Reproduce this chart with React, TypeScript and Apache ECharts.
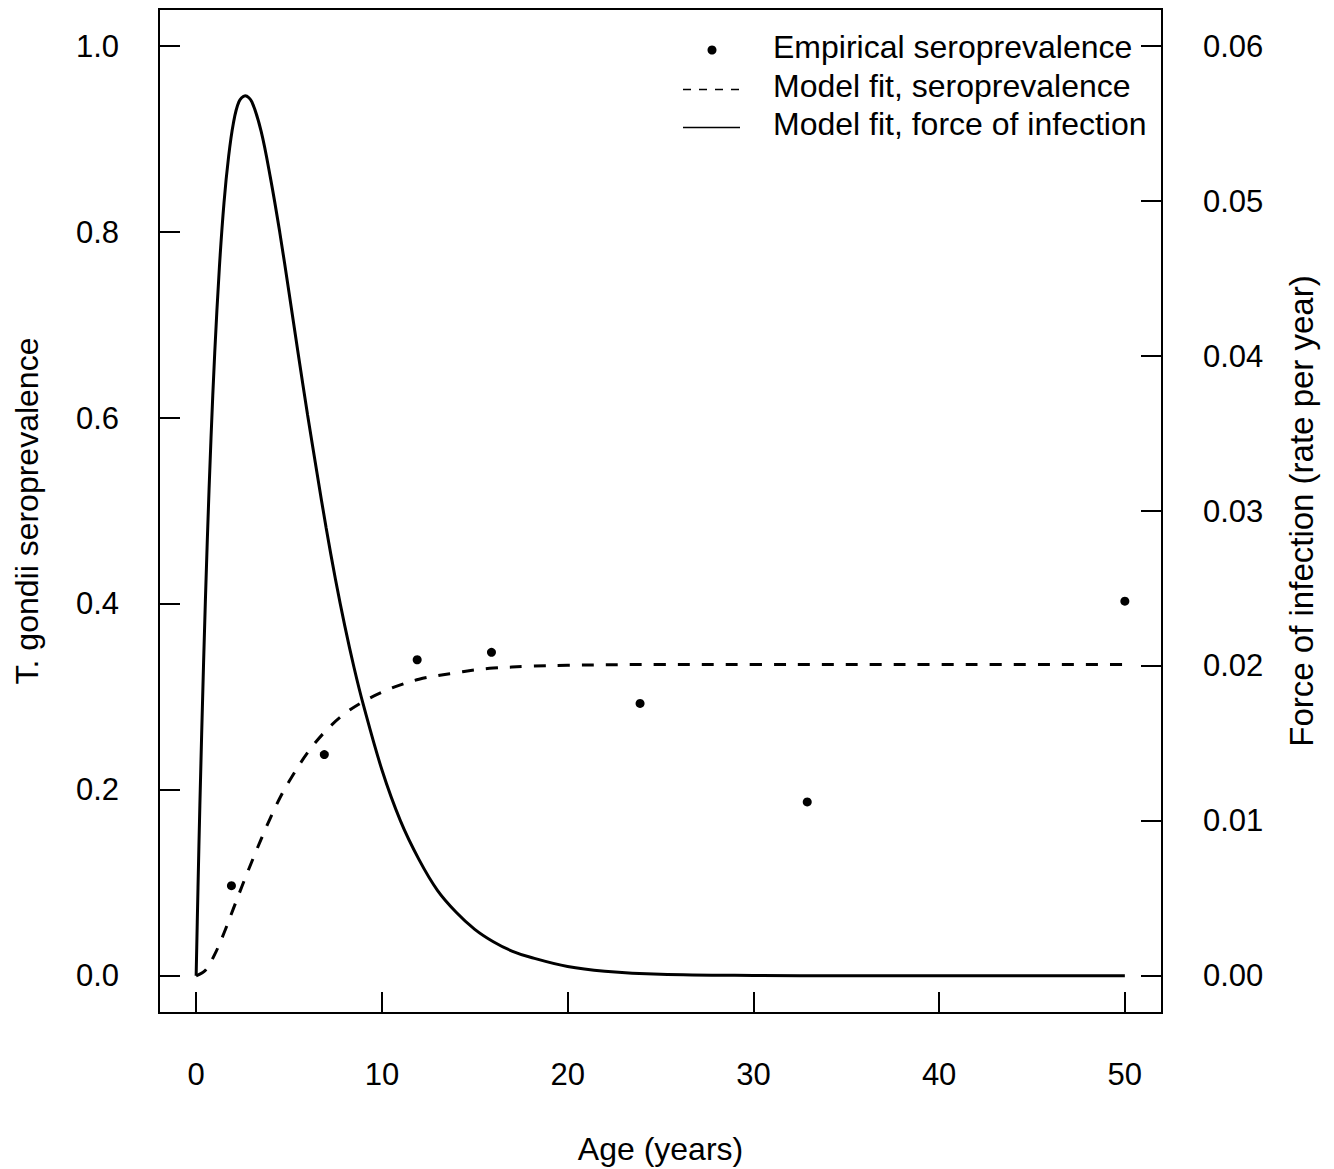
import React, { useEffect, useRef } from "react";
import * as echarts from "echarts";

// Empirical seroprevalence (age group midpoints)
const ages = [1.9, 6.9, 11.9, 15.9, 23.9, 32.9, 50];
const empiricalSeroprev = [0.097, 0.238, 0.34, 0.348, 0.293, 0.187, 0.403];

// Model fit, seroprevalence
const fitAges = [0, 0.5, 1, 1.5, 2, 2.5, 3, 3.5, 4, 4.5, 5, 6, 7, 8, 9, 10, 11, 12, 13, 14, 15, 16, 18, 20, 25, 30, 40, 50];
const fitSeroprev = [0, 0.006, 0.023, 0.046, 0.072, 0.098, 0.123, 0.147, 0.17, 0.191, 0.209, 0.24, 0.264, 0.282, 0.295, 0.305, 0.313, 0.319, 0.323, 0.326, 0.329, 0.331, 0.333, 0.334, 0.335, 0.335, 0.335, 0.335];

// Model fit, force of infection (right axis)
const foiAges = [0, 0.1, 0.2, 0.4, 0.6, 0.8, 1, 1.25, 1.5, 1.75, 2, 2.3, 2.64, 3, 3.5, 4, 4.5, 5, 5.5, 6, 6.5, 7, 7.5, 8, 8.5, 9, 10, 11, 12, 13, 14, 15, 16, 17, 18, 20, 22, 25, 30, 35, 40, 45, 50];
const foiValues = [0, 0.0057, 0.011, 0.0202, 0.0281, 0.0347, 0.0402, 0.0457, 0.0499, 0.0529, 0.055, 0.0564, 0.0568, 0.0564, 0.0545, 0.0515, 0.048, 0.0441, 0.0401, 0.0362, 0.0325, 0.0289, 0.0256, 0.0226, 0.0199, 0.0175, 0.0133, 0.01, 0.0075, 0.0055, 0.0041, 0.003, 0.0022, 0.0016, 0.0012, 0.0006, 0.0003, 0.0001, 0.00002, 0, 0, 0, 0];

// Ticks and tick labels
const xTicks = [0, 10, 20, 30, 40, 50];
const xTickLabels = ["0", "10", "20", "30", "40", "50"];
const leftTicks = [0, 0.2, 0.4, 0.6, 0.8, 1];
const leftTickLabels = ["0.0", "0.2", "0.4", "0.6", "0.8", "1.0"];
const rightTicks = [0, 0.01, 0.02, 0.03, 0.04, 0.05, 0.06];
const rightTickLabels = ["0.00", "0.01", "0.02", "0.03", "0.04", "0.05", "0.06"];

const seriesNames = ["Empirical seroprevalence", "Model fit, seroprevalence", "Model fit, force of infection"];

const FONT = "'Liberation Sans', Arial, Helvetica, sans-serif";

function labelFor(ticks: number[], labels: string[]) {
  return (v: number) => {
    let best = 0;
    for (let i = 1; i < ticks.length; i++) {
      if (Math.abs(ticks[i] - v) < Math.abs(ticks[best] - v)) best = i;
    }
    return labels[best];
  };
}

export default function App() {
  const ref = useRef<HTMLDivElement>(null);

  useEffect(() => {
    if (!ref.current) return;
    const chart = echarts.init(ref.current, null, { renderer: "svg" });

    const nameStyle = { fontSize: 32, color: "#000", fontFamily: FONT };
    const mkTick = (vals: number[]) => ({
      show: true,
      inside: true,
      length: 21,
      customValues: vals,
      lineStyle: { color: "#000", width: 2 },
    });
    const hiddenLine = { show: false, onZero: false };

    const option: any = {
      animation: false,
      backgroundColor: "#ffffff",
      textStyle: { fontFamily: FONT },
      grid: {
        left: 159,
        right: 172,
        top: 9,
        bottom: 156,
        containLabel: false,
        outerBoundsMode: "none",
        show: true,
        borderColor: "#000",
        borderWidth: 2,
        backgroundColor: "transparent",
      },
      xAxis: {
        type: "value",
        min: -2,
        max: 52,
        axisLine: hiddenLine,
        axisTick: mkTick(xTicks),
        splitLine: { show: false },
        axisLabel: {
          customValues: xTicks,
          margin: 46,
          fontSize: 31,
          color: "#000",
          fontFamily: FONT,
          formatter: labelFor(xTicks, xTickLabels),
        },
        name: "Age (years)",
        nameLocation: "middle",
        nameGap: 120,
        nameTextStyle: nameStyle,
      },
      yAxis: [
        {
          type: "value",
          position: "left",
          min: -0.04,
          max: 1.04,
          axisLine: hiddenLine,
          axisTick: mkTick(leftTicks),
          splitLine: { show: false },
          axisLabel: {
            customValues: leftTicks,
            margin: 40,
            fontSize: 31,
            color: "#000",
            fontFamily: FONT,
            formatter: labelFor(leftTicks, leftTickLabels),
          },
          name: "T. gondii seroprevalence",
          nameLocation: "middle",
          nameGap: 116,
          nameTextStyle: nameStyle,
        },
        {
          type: "value",
          position: "right",
          min: -0.0024,
          max: 0.0624,
          axisLine: hiddenLine,
          axisTick: mkTick(rightTicks),
          splitLine: { show: false },
          axisLabel: {
            customValues: rightTicks,
            margin: 41,
            fontSize: 31,
            color: "#000",
            fontFamily: FONT,
            formatter: labelFor(rightTicks, rightTickLabels),
          },
          name: "Force of infection (rate per year)",
          nameLocation: "middle",
          nameGap: 123,
          nameTextStyle: { ...nameStyle, fontSize: 33 },
        },
      ],
      series: [
        {
          name: seriesNames[0],
          type: "scatter",
          yAxisIndex: 0,
          symbol: "circle",
          symbolSize: 9,
          itemStyle: { color: "#000", opacity: 1 },
          clip: false,
          z: 5,
          data: ages.map((a, i) => [a, empiricalSeroprev[i]]),
        },
        {
          name: seriesNames[1],
          type: "line",
          yAxisIndex: 0,
          showSymbol: false,
          symbol: "none",
          smooth: 0.35,
          clip: false,
          lineStyle: { color: "#000", width: 3, type: [12, 12] },
          data: fitAges.map((a, i) => [a, fitSeroprev[i]]),
        },
        {
          name: seriesNames[2],
          type: "line",
          yAxisIndex: 1,
          showSymbol: false,
          symbol: "none",
          smooth: 0.35,
          clip: false,
          lineStyle: { color: "#000", width: 3, type: "solid" },
          data: foiAges.map((a, i) => [a, foiValues[i]]),
        },
      ],
      graphic: [
        {
          type: "circle",
          silent: true,
          shape: { cx: 712, cy: 50, r: 4.5 },
          style: { fill: "#000" },
        },
        {
          type: "line",
          silent: true,
          shape: { x1: 683, y1: 89.5, x2: 740, y2: 89.5 },
          style: { stroke: "#000", lineWidth: 1.5, lineDash: [8, 8] },
        },
        {
          type: "line",
          silent: true,
          shape: { x1: 683, y1: 127.5, x2: 740, y2: 127.5 },
          style: { stroke: "#000", lineWidth: 1.5 },
        },
        ...seriesNames.map((t, i) => ({
          type: "text",
          silent: true,
          x: 773,
          y: 47 + i * 38.5,
          style: {
            text: t,
            fontSize: 32,
            fontFamily: FONT,
            fill: "#000",
            align: "left",
            verticalAlign: "middle",
          },
        })),
      ],
    };

    chart.setOption(option);
    return () => chart.dispose();
  }, []);

  return (
    <div
      ref={ref}
      style={{ position: "absolute", left: 0, top: 0, width: 1334, height: 1169, background: "#fff" }}
    />
  );
}
